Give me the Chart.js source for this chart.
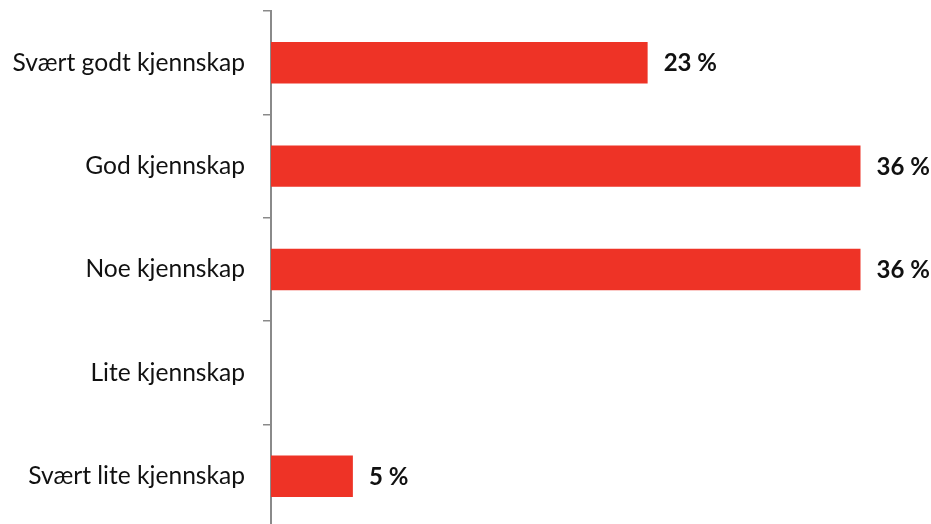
<!DOCTYPE html>
<html>
<head>
<meta charset="utf-8">
<script src="https://cdn.jsdelivr.net/npm/chart.js@4/dist/chart.umd.min.js"></script>
<style>
  html, body { margin: 0; padding: 0; background: #ffffff; overflow: hidden; }
  #wrap { width: 931px; height: 524px; overflow: hidden; }
</style>
</head>
<body>
<div id="wrap"><canvas id="c" width="931" height="528"></canvas></div>
<script>
const categories = ['Svært godt kjennskap', 'God kjennskap', 'Noe kjennskap', 'Lite kjennskap', 'Svært lite kjennskap'];
const shares = [23, 36, 36, null, 5];
const FONT = 'Lato, "Open Sans", sans-serif';

// Writes "NN %" to the right of every bar that has a value
const valueLabels = {
  id: 'valueLabels',
  afterDatasetsDraw(chart) {
    const ctx = chart.ctx;
    const meta = chart.getDatasetMeta(0);
    ctx.save();
    ctx.font = 'bold 24px ' + FONT;
    ctx.fillStyle = '#111111';
    ctx.textAlign = 'left';
    ctx.textBaseline = 'middle';
    meta.data.forEach((bar, i) => {
      const v = shares[i];
      if (v === null || v === undefined) return;
      ctx.fillText(v + ' %', bar.x + 16, bar.y + 1);
    });
    ctx.restore();
  }
};

new Chart(document.getElementById('c'), {
  type: 'bar',
  data: {
    labels: categories,
    datasets: [{
      data: shares,
      backgroundColor: '#EE3326',
      borderWidth: 0,
      barPercentage: 0.4,
      categoryPercentage: 1.0
    }]
  },
  options: {
    indexAxis: 'y',
    responsive: false,
    animation: false,
    layout: { padding: { top: 11, right: 5, bottom: 0, left: 0 } },
    plugins: { legend: { display: false }, tooltip: { enabled: false } },
    scales: {
      x: {
        display: false,
        min: 0,
        max: 40
      },
      y: {
        offset: true,
        grid: {
          offset: true,
          drawOnChartArea: false,
          drawTicks: true,
          tickLength: 8,
          color: '#8a8a8a',
          lineWidth: 1.5
        },
        border: { display: true, color: '#8a8a8a', width: 2 },
        ticks: {
          color: '#111111',
          padding: 18,
          font: { family: FONT, size: 24.6 }
        },
        afterFit(scale) {
          scale.width = 271;
          scale.paddingTop = 0;
          scale.paddingBottom = 0;
        }
      }
    }
  },
  plugins: [valueLabels]
});
</script>
</body>
</html>
